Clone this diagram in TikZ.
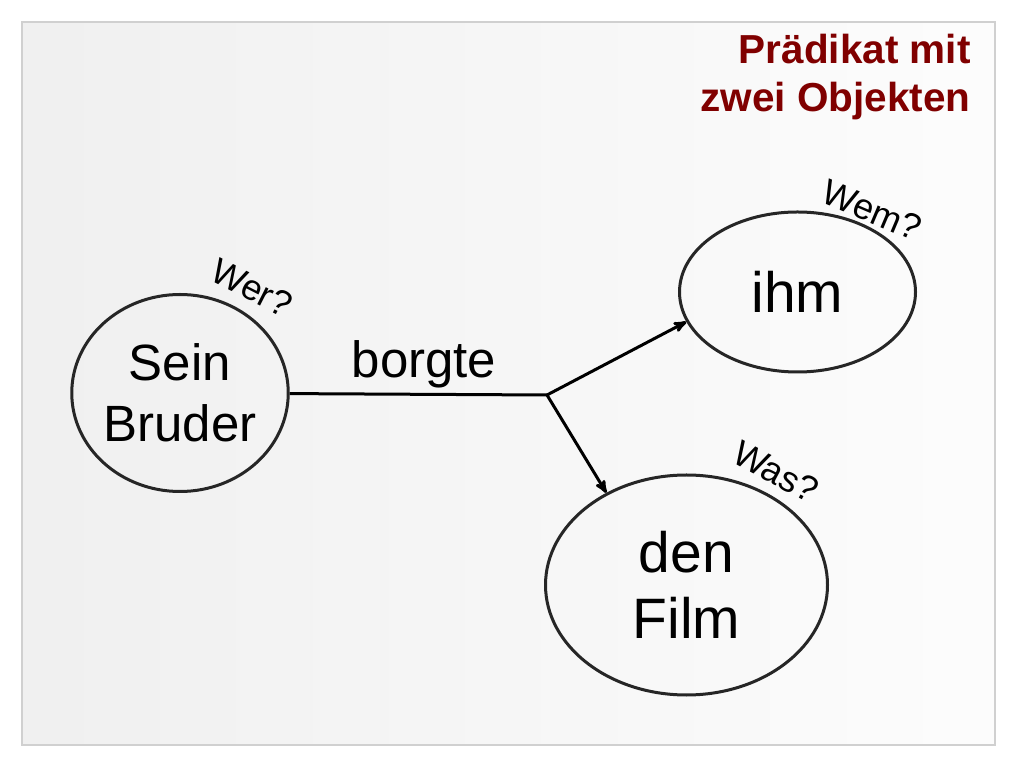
\documentclass[tikz,border=0pt]{standalone}
\usepackage{fontspec}
\setmainfont{Liberation Sans}
\usetikzlibrary{arrows, shapes.geometric, positioning}
\definecolor{titlered}{RGB}{128,0,0}
\definecolor{framegray}{RGB}{208,208,208}

\begin{document}
\begin{tikzpicture}[x=1pt, y=1pt, ->, >=stealth', semithick,
    word/.style={font=\fontsize{51}{61}\selectfont, align=center},
    bigword/.style={font=\fontsize{57}{66}\selectfont},
    phrase/.style={ellipse, draw=black!85, line width=3pt, inner sep=0pt, word},
    question/.style={font=\fontsize{36}{40}\selectfont},
    link/.style={line width=3pt}]

    \useasboundingbox (0,0) rectangle (1024,768);
    \shade[left color=black!6, right color=black!1, draw=framegray, line width=2pt] (22,23) rectangle (995,746);

    \node[anchor=north east, align=right, inner sep=0pt, text=titlered,
          font=\bfseries\fontsize{40.5}{48}\selectfont] (title) at (971,734) {Prädikat mit\\zwei Objekten};

    \node[phrase, minimum width=214pt, minimum height=197pt] (bruder) at (180,375) {Sein\\Bruder};
    \node[phrase, bigword, minimum width=236pt, minimum height=160pt] (ihm)  at (797.5,476) {ihm};
    \node[phrase, bigword, minimum width=282pt, minimum height=220pt] (film) at (686.5,183) {den\\Film};

    \node[word, anchor=base] (verb) at (424,390) {borgte};
    \coordinate (fork) at (547,373);

    \node[question, rotate=-27] (wer) at (252,480) {Wer?};
    \node[question, rotate=-23] (wem) at (872,558) {Wem?};
    \node[question, rotate=-28] (was) at (776,296) {Was?};

    \draw[link, -] (bruder) -- (fork);
    \draw[link] (fork) -- (ihm.195);
    \draw[link] (fork) -- (film.131);
\end{tikzpicture}
\end{document}
